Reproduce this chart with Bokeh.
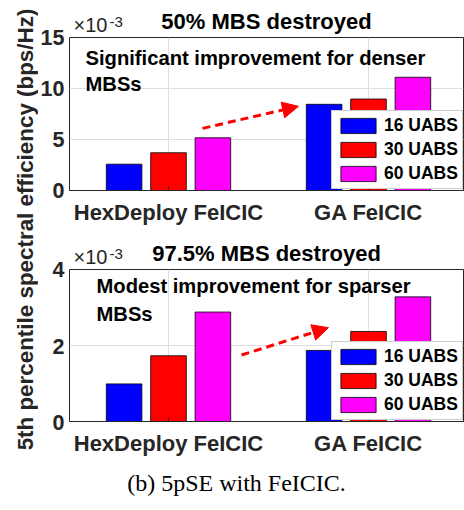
from bokeh.plotting import figure
from bokeh.models import Range1d, FixedTicker, Legend, LegendItem, Label, Arrow, NormalHead
from bokeh.layouts import column, row
from bokeh.embed import file_html
from bokeh.resources import INLINE
from bokeh.core.properties import value

# ---------------- data (5th percentile SE, x 1e-3 bps/Hz) ----------------
categories = ["HexDeploy FeICIC", "GA FeICIC"]
series_names = ["16 UABS", "30 UABS", "60 UABS"]
series_colors = ["#0000FF", "#FF0000", "#FF00FF"]

se50_16 = [2.58, 8.45]
se50_30 = [3.70, 8.97]
se50_60 = [5.17, 11.10]

se975_16 = [0.99, 1.87]
se975_30 = [1.73, 2.37]
se975_60 = [2.88, 3.28]

y_ticks_50 = [0, 5, 10, 15]
y_ticks_975 = [0, 2, 4]

titles = ["50% MBS destroyed", "97.5% MBS destroyed"]
exponent_base = "\u00d710"
exponent_power = "-3"
notes = [["Significant improvement for denser", "MBSs"],
         ["Modest improvement for sparser", "MBSs"]]
# annotation anchor points in data units
note_x = [0.585, 0.64]
note_y = [[11.93, 9.33], [3.28, 2.55]]
arrow_start = [(1.17, 6.09), (1.365, 1.75)]
arrow_end = [(1.65, 8.25), (1.80, 2.47)]

y_label = "5th percentile spectral efficiency (bps/Hz)"
caption = "(b) 5pSE with FeICIC."

FONT = "Liberation Sans"
DARK = "#262626"
offsets = [-0.222, 0.0, 0.222]
bar_w = 0.178
cat_pos = [1, 2]
X_RANGE = (0.505, 2.475)
MAIN_W = 395
YAX_W = 31
STRIP_W = 38


def make_header(idx, height):
    h = figure(width=MAIN_W, height=height, x_range=Range1d(*X_RANGE), y_range=Range1d(0, height),
               output_backend="svg", toolbar_location=None, x_axis_location=None,
               y_axis_location=None, min_border_left=0, min_border_right=1,
               min_border_top=0, min_border_bottom=0)
    h.grid.visible = False
    h.outline_line_color = None
    xc = (X_RANGE[0] + X_RANGE[1]) / 2
    h.text(x=[xc], y=[2.8], text=[titles[idx]], text_align="center", text_baseline="bottom",
           text_font=value(FONT), text_font_size="22px", text_font_style="bold", text_color="black")
    h.text(x=[0.525], y=[0.5], text=[exponent_base], text_align="left", text_baseline="bottom",
           text_font=value(FONT), text_font_size="20px", text_color=DARK)
    h.text(x=[0.705], y=[9.8], text=[exponent_power], text_align="left", text_baseline="bottom",
           text_font=value(FONT), text_font_size="15px", text_color=DARK)
    return h


def make_yaxis(y_rng, y_ticks, height, b_top, b_bottom):
    a = figure(width=YAX_W, height=height, x_range=Range1d(0, 1), y_range=y_rng,
               output_backend="svg", toolbar_location=None, x_axis_location=None,
               min_border_left=YAX_W - 1, min_border_right=0,
               min_border_top=b_top, min_border_bottom=b_bottom)
    a.grid.visible = False
    a.outline_line_color = None
    a.yaxis.ticker = FixedTicker(ticks=y_ticks)
    a.yaxis.major_label_text_font = FONT
    a.yaxis.major_label_text_font_style = "bold"
    a.yaxis.major_label_text_font_size = "21.5px"
    a.yaxis.major_label_text_color = DARK
    a.yaxis.major_label_standoff = 5
    a.yaxis.major_tick_in = 0
    a.yaxis.major_tick_out = 0
    a.yaxis.minor_tick_in = 0
    a.yaxis.minor_tick_out = 0
    a.yaxis.axis_line_color = None
    a.yaxis.major_tick_line_color = None
    a.yaxis.minor_tick_line_color = None
    return a


def make_panel(idx, series_vals, y_rng, y_ticks, height, b_bottom):
    p = figure(width=MAIN_W, height=height, x_range=Range1d(*X_RANGE), y_range=y_rng,
               output_backend="svg", toolbar_location=None, y_axis_location=None,
               min_border_left=0, min_border_right=1, min_border_top=1,
               min_border_bottom=b_bottom)

    renderers = []
    for k, vals in enumerate(series_vals):
        xs = [c + offsets[k] for c in cat_pos]
        r = p.vbar(x=xs, top=vals, width=bar_w, fill_color=series_colors[k],
                   line_color="black", line_width=0.8)
        renderers.append(r)

    p.xaxis.ticker = FixedTicker(ticks=cat_pos)
    p.xaxis.major_label_overrides = {c: categories[i] for i, c in enumerate(cat_pos)}
    p.xaxis.major_label_text_font = FONT
    p.xaxis.major_label_text_font_style = "bold"
    p.xaxis.major_label_text_color = DARK
    p.xaxis.major_label_text_font_size = "22px"
    p.xaxis.major_label_standoff = 9
    p.xaxis.axis_line_color = DARK
    p.xaxis.major_tick_line_color = DARK
    p.xaxis.major_tick_in = 4
    p.xaxis.major_tick_out = 0
    p.xaxis.minor_tick_line_color = None
    p.xgrid.ticker = FixedTicker(ticks=cat_pos)
    p.ygrid.ticker = FixedTicker(ticks=y_ticks)
    p.grid.grid_line_color = "#dfdfdf"
    p.outline_line_color = DARK
    p.outline_line_alpha = 1.0

    for j, line in enumerate(notes[idx]):
        p.add_layout(Label(x=note_x[idx], y=note_y[idx][j], text=line, text_font=FONT,
                           text_font_size="20.2px", text_font_style="bold", text_color="black"))

    p.add_layout(Arrow(end=NormalHead(size=16, fill_color="red", line_color="red", line_width=1),
                       x_start=arrow_start[idx][0], y_start=arrow_start[idx][1],
                       x_end=arrow_end[idx][0], y_end=arrow_end[idx][1],
                       line_color="red", line_width=3, line_dash="8 5"))

    legend = Legend(items=[LegendItem(label=series_names[k], renderers=[renderers[k]])
                           for k in range(3)],
                    location=(262, 1))
    legend.label_text_font = FONT
    legend.label_text_font_size = "17.5px"
    legend.label_text_font_style = "bold"
    legend.label_text_color = "black"
    legend.glyph_width = 44
    legend.glyph_height = 19
    legend.label_height = 21
    legend.label_standoff = 4
    legend.spacing = 3
    legend.padding = 4
    legend.margin = 0
    legend.border_line_color = "#999999"
    legend.border_line_width = 1
    legend.background_fill_color = "white"
    legend.background_fill_alpha = 1.0
    p.add_layout(legend, "center")
    return p


yr1 = Range1d(0, 15)
yr2 = Range1d(0, 4)

h1 = make_header(0, 36)
p1 = make_panel(0, [se50_16, se50_30, se50_60], yr1, y_ticks_50, 1 + 153 + 37, 37)
h2 = make_header(1, 41)
p2 = make_panel(1, [se975_16, se975_30, se975_60], yr2, y_ticks_975, 1 + 153 + 36, 36)

a1 = make_yaxis(yr1, y_ticks_50, 227, 37, 37)
a2 = make_yaxis(yr2, y_ticks_975, 231, 42, 36)

STRIP_H = 458
ylab = figure(width=STRIP_W, height=STRIP_H, x_range=Range1d(0, STRIP_W), y_range=Range1d(0, STRIP_H),
              output_backend="svg", toolbar_location=None, min_border=0,
              x_axis_location=None, y_axis_location=None)
ylab.grid.visible = False
ylab.outline_line_color = None
ylab.text(x=[25.2], y=[STRIP_H / 2], text=[y_label], angle=1.5708,
          text_align="center", text_baseline="middle", text_font=value(FONT),
          text_font_size="22.4px", text_font_style="bold", text_color=DARK)

CAP_H = 52
cap = figure(width=464, height=CAP_H, x_range=Range1d(0, 464), y_range=Range1d(0, CAP_H),
             output_backend="svg", toolbar_location=None, min_border=0,
             x_axis_location=None, y_axis_location=None)
cap.grid.visible = False
cap.outline_line_color = None
cap.text(x=[236], y=[15], text=[caption], text_align="center", text_baseline="bottom",
         text_font=value("Liberation Serif"), text_font_size="24px", text_color="black")

layout = column(row(ylab, column(a1, a2), column(h1, p1, h2, p2)), cap)

open("out.html", "w").write(file_html(layout, INLINE))
